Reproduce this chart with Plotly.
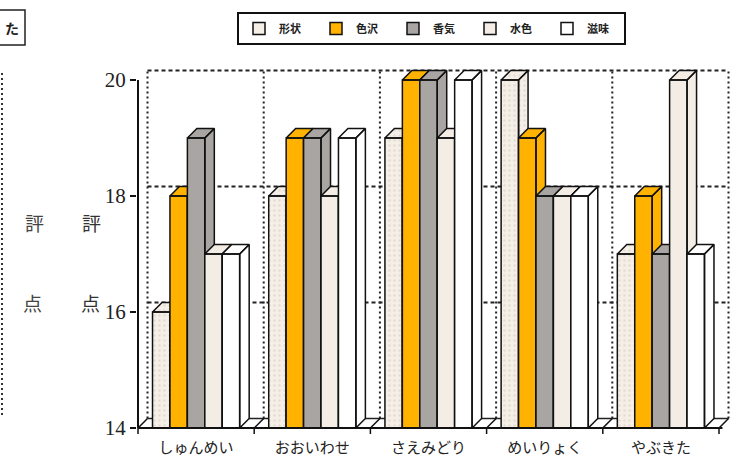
import plotly.graph_objects as go

# ---------------- data ----------------
categories = ["しゅんめい", "おおいわせ", "さえみどり", "めいりょく", "やぶきた"]
series_names = ["形状", "色沢", "香気", "水色", "滋味"]
keijou = [16, 18, 19, 20, 17]
shikitaku = [18, 19, 20, 19, 18]
kouki = [19, 19, 20, 18, 17]
suishoku = [17, 18, 19, 18, 20]
jimi = [17, 19, 20, 18, 17]
y_ticks = [14, 16, 18, 20]

series_values = [keijou, shikitaku, kouki, suishoku, jimi]
colors = ["#f5efe8", "#ffb300", "#a9a5a3", "#f3ede6", "#ffffff"]

# ---------------- geometry ----------------
W, H = 741, 463
ML, MR, MT, MB = 137, 5, 63, 35
PW, PH = W - ML - MR, H - MT - MB
PXU = 116.2          # px per category
PYU = 58.0           # px per score unit
XMIN = -0.5 - 1 / PXU
XMAX = XMIN + PW / PXU
YMIN = 14
YMAX = YMIN + PH / PYU
DX = 9.5 / PXU       # depth offset
DY = 9.5 / PYU
BW = 0.15            # bar width
GS = 0.125           # group start offset

def xp(v):
    return (v - XMIN) / (XMAX - XMIN)

def yp(v):
    return (v - YMIN) / (YMAX - YMIN)

def pxx(px):
    return (px - ML) / PW

def pyy(py):
    return (H - MB - py) / PH

fig = go.Figure()

boundaries = [i - 0.5 for i in range(len(categories) + 1)]
base = y_ticks[0]
top = y_ticks[-1]

# back wall dotted verticals
for b in boundaries:
    fig.add_trace(go.Scatter(x=[b + DX, b + DX], y=[base + DY, top + DY], mode="lines",
                             line=dict(color="#222", width=2, dash="2px,3px"),
                             showlegend=False, hoverinfo="skip"))
# back wall horizontals (floor line solid, grid lines dotted)
for t in y_ticks:
    dash = "solid" if t == base else "4px,3px"
    wid = 1.5 if t == base else 2
    fig.add_trace(go.Scatter(x=[boundaries[0] + DX, boundaries[-1] + DX], y=[t + DY, t + DY],
                             mode="lines", line=dict(color="#222", width=wid, dash=dash),
                             showlegend=False, hoverinfo="skip"))
# floor diagonals
for b in boundaries:
    fig.add_trace(go.Scatter(x=[b, b + DX], y=[base, base + DY], mode="lines",
                             line=dict(color="#111", width=1.5),
                             showlegend=False, hoverinfo="skip"))

# 3D bars (front, top and side faces) per series
for j, (name, vals, col) in enumerate(zip(series_names, series_values, colors)):
    xs, ys = [], []
    for i, v in enumerate(vals):
        x0 = i - 0.5 + GS + j * BW
        x1 = x0 + BW
        # side
        xs += [x1, x1, x1 + DX, x1 + DX, x1, None]
        ys += [base, v, v + DY, base + DY, base, None]
        # top
        xs += [x0, x0 + DX, x1 + DX, x1, x0, None]
        ys += [v, v + DY, v + DY, v, v, None]
        # front
        xs += [x0, x0, x1, x1, x0, None]
        ys += [base, v, v, base, base, None]
    kw = {}
    if j == 0:
        kw["fillpattern"] = dict(shape=".", fgcolor="#d4cbc0", bgcolor=col, size=5, solidity=0.2)
    fig.add_trace(go.Scatter(x=xs, y=ys, mode="lines", fill="toself", fillcolor=col,
                             line=dict(color="#111", width=1.5), name=name,
                             showlegend=False, hoverinfo="skip", **kw))

# legend entries
for name, col in zip(series_names, colors):
    fig.add_trace(go.Bar(x=[None], y=[None], name=name,
                         marker=dict(color=col, line=dict(color="#111", width=1.5))))

shapes = []
# y axis line
shapes.append(dict(type="line", xref="paper", yref="paper", x0=xp(-0.5), x1=xp(-0.5),
                   y0=yp(base), y1=yp(top), line=dict(color="#111", width=2)))
# baseline
shapes.append(dict(type="line", xref="paper", yref="paper", x0=xp(-0.5), x1=xp(boundaries[-1] + 0.03),
                   y0=0, y1=0, line=dict(color="#111", width=2)))
# category boundary ticks
for b in boundaries:
    shapes.append(dict(type="line", xref="paper", yref="paper", x0=xp(b), x1=xp(b),
                       y0=0, y1=-6 / PH, line=dict(color="#111", width=1.5)))
# ghost panel on the left (cropped neighbouring chart)
shapes.append(dict(type="line", xref="paper", yref="paper", x0=pxx(2), x1=pxx(2),
                   y0=pyy(415), y1=pyy(70), line=dict(color="#333", width=2, dash="2px,3px")))
shapes.append(dict(type="rect", xref="paper", yref="paper", x0=pxx(-5), x1=pxx(25),
                   y0=pyy(45), y1=pyy(10), line=dict(color="#222", width=1.5)))

annotations = [
    dict(text="<b>た</b>", x=pxx(12), y=pyy(28), xref="paper", yref="paper", showarrow=False,
         xanchor="center", yanchor="middle",
         font=dict(size=14, color="#222", family="Noto Sans CJK JP")),
    dict(text="評", x=pxx(80), y=pyy(222), xref="paper", yref="paper", showarrow=False,
         font=dict(size=19, color="#333", family="Noto Sans CJK JP")),
    dict(text="点", x=pxx(79), y=pyy(302), xref="paper", yref="paper", showarrow=False,
         font=dict(size=19, color="#333", family="Noto Sans CJK JP")),
    dict(text="評", x=pxx(23), y=pyy(222), xref="paper", yref="paper", showarrow=False,
         font=dict(size=19, color="#444", family="Noto Sans CJK JP")),
    dict(text="点", x=pxx(21), y=pyy(302), xref="paper", yref="paper", showarrow=False,
         font=dict(size=19, color="#444", family="Noto Sans CJK JP")),
]

fig.update_layout(
    width=W, height=H,
    margin=dict(l=ML, r=MR, t=MT, b=MB),
    plot_bgcolor="white", paper_bgcolor="white",
    shapes=shapes, annotations=annotations,
    showlegend=True,
    legend=dict(orientation="h", x=pxx(237), y=pyy(12), xanchor="left", yanchor="top",
                bordercolor="#111", borderwidth=2, bgcolor="white",
                font=dict(size=11, color="#222", family="Noto Sans CJK JP", weight="bold"),
                entrywidth=32, entrywidthmode="pixels", itemclick=False),
    xaxis=dict(range=[XMIN, XMAX], showgrid=False, zeroline=False, showline=False,
               tickmode="array", tickvals=list(range(len(categories))), ticktext=categories,
               ticks="outside", ticklen=6, tickcolor="rgba(0,0,0,0)",
               tickfont=dict(size=15, color="#222", family="Noto Sans CJK JP")),
    yaxis=dict(range=[YMIN, YMAX], showgrid=False, zeroline=False, showline=False,
               tickmode="array", tickvals=y_ticks, ticks="outside", ticklen=6,
               tickcolor="#111", tickwidth=1.5,
               tickfont=dict(size=21, color="#222", family="Liberation Serif")),
)

fig.write_html("out.html")
